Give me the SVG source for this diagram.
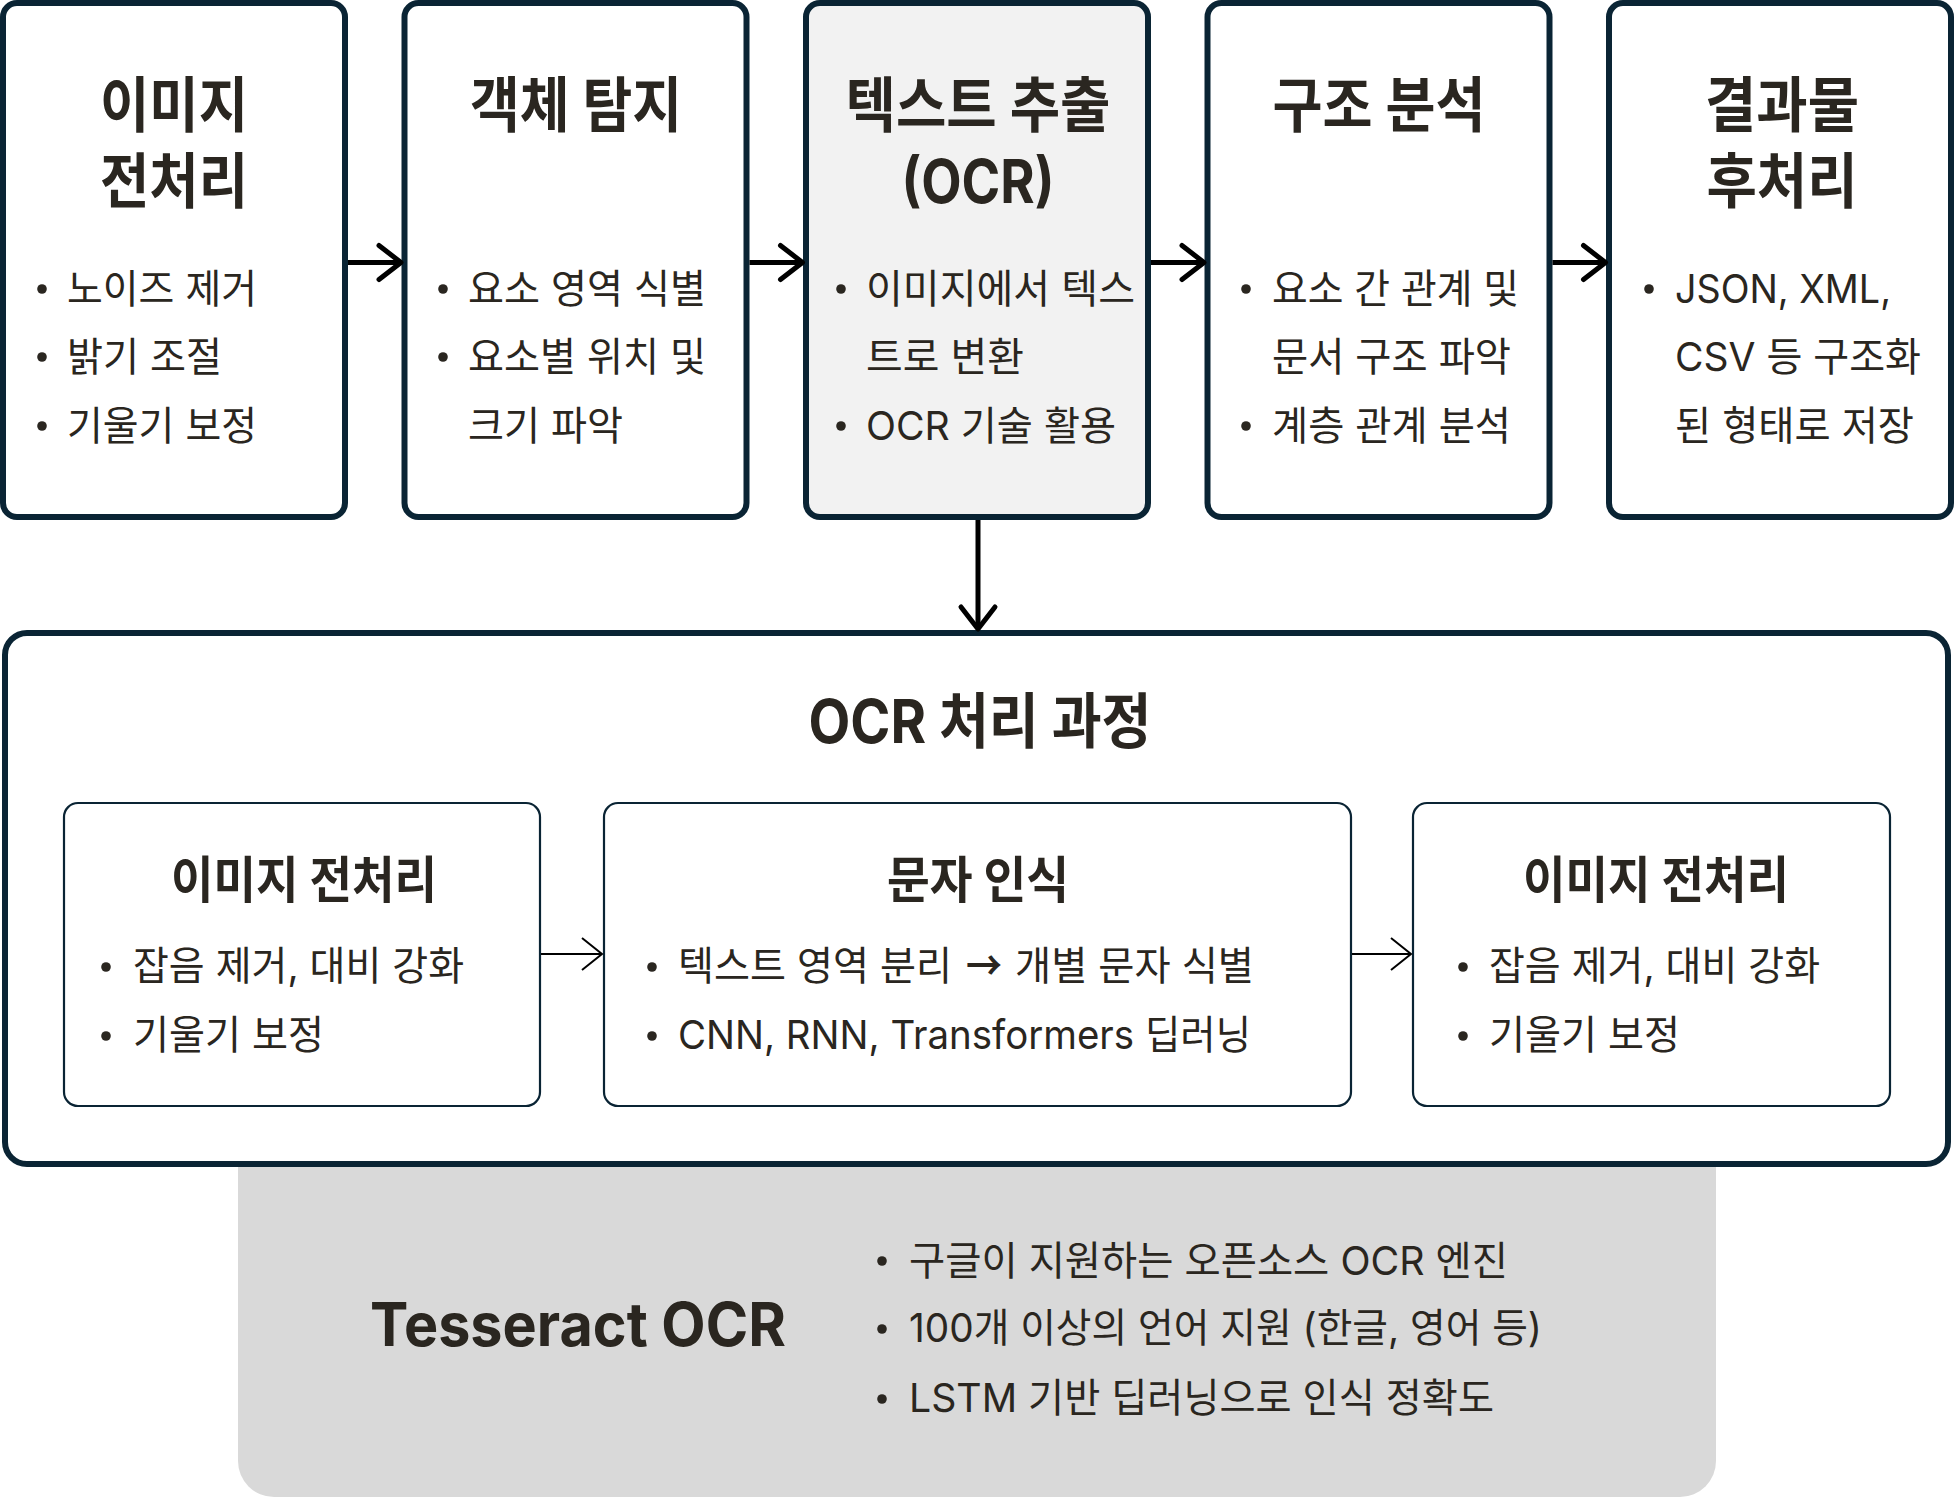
<svg xmlns="http://www.w3.org/2000/svg" width="1959" height="1497" viewBox="0 0 1959 1497">
<style>
text{font-family:Inter,"Noto Sans CJK KR","Noto Sans",sans-serif;fill:#2a2620}
.t{font-weight:700;font-size:60px;text-anchor:middle}
.st{font-weight:700;font-size:50px;text-anchor:middle}
.b{font-weight:400;font-size:40px}
.arw{font-family:"Noto Sans CJK KR",sans-serif;font-weight:700;text-anchor:middle}
.box{fill:#fff;stroke:#0a2434;stroke-width:6}
.ibox{fill:#fff;stroke:#0a2434;stroke-width:2.2}
.dot{fill:#2a2620}
.ca{stroke:#000;stroke-width:5;fill:none}
.cb{stroke:#000;stroke-width:2;fill:none}
</style>
<defs>
<marker id="ah" markerUnits="userSpaceOnUse" markerWidth="32" markerHeight="42" viewBox="0 0 32 42" refX="27" refY="21" orient="auto">
<path d="M5,4 L27,21 L5,38" fill="none" stroke="#000" stroke-width="5" stroke-linecap="round" stroke-linejoin="round"/>
</marker>
<marker id="ahs" markerUnits="userSpaceOnUse" markerWidth="26" markerHeight="36" viewBox="0 0 26 36" refX="23" refY="18" orient="auto">
<path d="M3,2 L23,18 L3,34" fill="none" stroke="#000" stroke-width="2" stroke-linejoin="miter"/>
</marker>
</defs>
<rect width="1959" height="1497" fill="#fff"/>

<g id="tesseract">
<rect x="238" y="1100" width="1478" height="397" rx="36" fill="#d9d9d9"/>
<text class="t" x="578" y="1345.5" font-size="62" textLength="416" lengthAdjust="spacingAndGlyphs">Tesseract OCR</text>
<circle class="dot" cx="882" cy="1261" r="4.8"/>
<circle class="dot" cx="882" cy="1329" r="4.8"/>
<circle class="dot" cx="882" cy="1399" r="4.8"/>
<text class="b" x="909" y="1274.5" textLength="599" lengthAdjust="spacingAndGlyphs">구글이 지원하는 오픈소스 OCR 엔진</text>
<text class="b" x="909" y="1341.5" textLength="633" lengthAdjust="spacingAndGlyphs">100개 이상의 언어 지원 (한글, 영어 등)</text>
<text class="b" x="909" y="1412" textLength="585" lengthAdjust="spacingAndGlyphs">LSTM 기반 딥러닝으로 인식 정확도</text>
</g>

<g id="n1">
<rect class="box" x="3" y="3" width="342" height="514" rx="14"/>
<text class="t" x="174" y="127" textLength="148" lengthAdjust="spacingAndGlyphs">이미지</text>
<text class="t" x="174" y="203" textLength="148" lengthAdjust="spacingAndGlyphs">전처리</text>
<circle class="dot" cx="42" cy="289" r="4.8"/>
<circle class="dot" cx="42" cy="357" r="4.8"/>
<circle class="dot" cx="42" cy="426" r="4.8"/>
<text class="b" x="67" y="302.5" textLength="190" lengthAdjust="spacingAndGlyphs">노이즈 제거</text>
<text class="b" x="67" y="370.5" textLength="155" lengthAdjust="spacingAndGlyphs">밝기 조절</text>
<text class="b" x="67" y="439.5" textLength="190" lengthAdjust="spacingAndGlyphs">기울기 보정</text>
</g>

<g id="n2">
<rect class="box" x="404.5" y="3" width="342" height="514" rx="14"/>
<text class="t" x="576" y="127" textLength="212" lengthAdjust="spacingAndGlyphs">객체 탐지</text>
<circle class="dot" cx="443" cy="289" r="4.8"/>
<circle class="dot" cx="443" cy="357" r="4.8"/>
<text class="b" x="468" y="302.5" textLength="238" lengthAdjust="spacingAndGlyphs">요소 영역 식별</text>
<text class="b" x="468" y="370.5" textLength="238" lengthAdjust="spacingAndGlyphs">요소별 위치 및</text>
<text class="b" x="468" y="439.5" textLength="155" lengthAdjust="spacingAndGlyphs">크기 파악</text>
</g>

<g id="n3">
<rect class="box" x="806" y="3" width="342" height="514" rx="14" style="fill:#f2f2f2"/>
<text class="t" x="978" y="127" textLength="265" lengthAdjust="spacingAndGlyphs">텍스트 추출</text>
<text class="t" x="978" y="203" textLength="153" lengthAdjust="spacingAndGlyphs">(OCR)</text>
<circle class="dot" cx="841" cy="289" r="4.8"/>
<circle class="dot" cx="841" cy="426" r="4.8"/>
<text class="b" x="866" y="302.5" textLength="269" lengthAdjust="spacingAndGlyphs">이미지에서 텍스</text>
<text class="b" x="866" y="370.5" textLength="158" lengthAdjust="spacingAndGlyphs">트로 변환</text>
<text class="b" x="866" y="439.5" textLength="250" lengthAdjust="spacingAndGlyphs">OCR 기술 활용</text>
</g>

<g id="n4">
<rect class="box" x="1207.5" y="3" width="342" height="514" rx="14"/>
<text class="t" x="1379" y="127" textLength="213" lengthAdjust="spacingAndGlyphs">구조 분석</text>
<circle class="dot" cx="1246" cy="289" r="4.8"/>
<circle class="dot" cx="1246" cy="426" r="4.8"/>
<text class="b" x="1272" y="302.5" textLength="247" lengthAdjust="spacingAndGlyphs">요소 간 관계 및</text>
<text class="b" x="1272" y="370.5" textLength="239" lengthAdjust="spacingAndGlyphs">문서 구조 파악</text>
<text class="b" x="1272" y="439.5" textLength="239" lengthAdjust="spacingAndGlyphs">계층 관계 분석</text>
</g>

<g id="n5">
<rect class="box" x="1609" y="3" width="342" height="514" rx="14"/>
<text class="t" x="1782" y="127" textLength="154" lengthAdjust="spacingAndGlyphs">결과물</text>
<text class="t" x="1782" y="203" textLength="151" lengthAdjust="spacingAndGlyphs">후처리</text>
<circle class="dot" cx="1649" cy="289" r="4.8"/>
<text class="b" x="1675" y="302.5" textLength="216" lengthAdjust="spacingAndGlyphs">JSON, XML,</text>
<text class="b" x="1675" y="370.5" textLength="246" lengthAdjust="spacingAndGlyphs">CSV 등 구조화</text>
<text class="b" x="1675" y="439.5" textLength="239" lengthAdjust="spacingAndGlyphs">된 형태로 저장</text>
</g>

<g id="ocr-process">
<rect class="box" x="5" y="633" width="1943" height="531" rx="22"/>
<text class="t" x="980" y="742.5" textLength="343" lengthAdjust="spacingAndGlyphs">OCR 처리 과정</text>
</g>

<g id="p1">
<rect class="ibox" x="64" y="803" width="476" height="303" rx="14"/>
<text class="st" x="304" y="897.5" textLength="266" lengthAdjust="spacingAndGlyphs">이미지 전처리</text>
<circle class="dot" cx="106" cy="967" r="4.8"/>
<circle class="dot" cx="106" cy="1036" r="4.8"/>
<text class="b" x="133" y="980" textLength="331" lengthAdjust="spacingAndGlyphs">잡음 제거, 대비 강화</text>
<text class="b" x="133" y="1049" textLength="191" lengthAdjust="spacingAndGlyphs">기울기 보정</text>
</g>

<g id="p2">
<rect class="ibox" x="604" y="803" width="747" height="303" rx="14"/>
<text class="st" x="978" y="897.5" textLength="182" lengthAdjust="spacingAndGlyphs">문자 인식</text>
<circle class="dot" cx="652" cy="967" r="4.8"/>
<circle class="dot" cx="652" cy="1036" r="4.8"/>
<text class="b" x="678" y="980" textLength="274" lengthAdjust="spacingAndGlyphs">텍스트 영역 분리</text>
<text class="b arw" x="984" y="980" textLength="36" lengthAdjust="spacingAndGlyphs">→</text>
<text class="b" x="1015" y="980" textLength="239" lengthAdjust="spacingAndGlyphs">개별 문자 식별</text>
<text class="b" x="678" y="1049" textLength="573" lengthAdjust="spacingAndGlyphs">CNN, RNN, Transformers 딥러닝</text>
</g>

<g id="p3">
<rect class="ibox" x="1413" y="803" width="477" height="303" rx="14"/>
<text class="st" x="1656" y="897.5" textLength="266" lengthAdjust="spacingAndGlyphs">이미지 전처리</text>
<circle class="dot" cx="1463" cy="967" r="4.8"/>
<circle class="dot" cx="1463" cy="1036" r="4.8"/>
<text class="b" x="1489" y="980" textLength="331" lengthAdjust="spacingAndGlyphs">잡음 제거, 대비 강화</text>
<text class="b" x="1489" y="1049" textLength="191" lengthAdjust="spacingAndGlyphs">기울기 보정</text>
</g>

<g id="connectors">
<line class="ca" x1="348" y1="262.5" x2="401" y2="262.5" marker-end="url(#ah)"/>
<line class="ca" x1="749.5" y1="262.5" x2="802.5" y2="262.5" marker-end="url(#ah)"/>
<line class="ca" x1="1151" y1="262.5" x2="1204" y2="262.5" marker-end="url(#ah)"/>
<line class="ca" x1="1552.5" y1="262.5" x2="1605.5" y2="262.5" marker-end="url(#ah)"/>
<line class="ca" x1="978" y1="520" x2="978" y2="629" marker-end="url(#ah)"/>
<line class="cb" x1="541" y1="954" x2="602" y2="954" marker-end="url(#ahs)"/>
<line class="cb" x1="1352" y1="954" x2="1411" y2="954" marker-end="url(#ahs)"/>
</g>
</svg>
